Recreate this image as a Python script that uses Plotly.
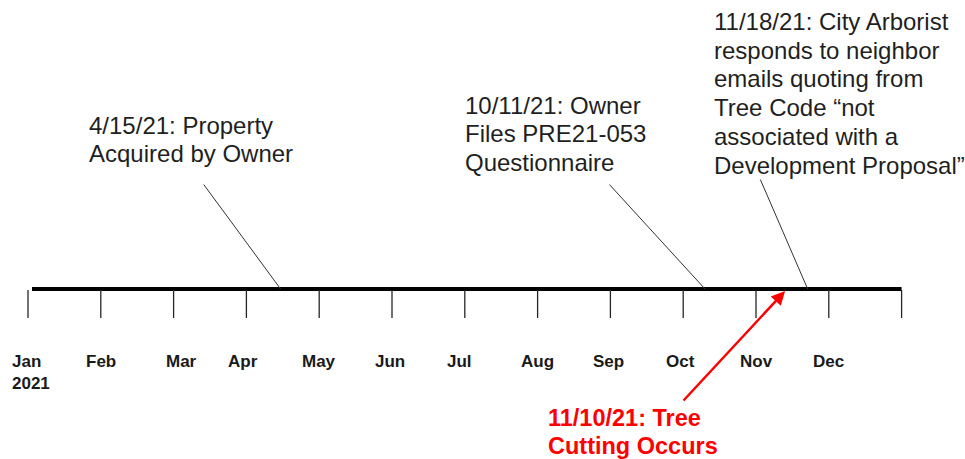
import plotly.graph_objects as go

# ---- data ----
months = ["Jan", "Feb", "Mar", "Apr", "May", "Jun", "Jul", "Aug", "Sep", "Oct", "Nov", "Dec"]
year_label = "2021"
month_index = list(range(13))          # tick positions (month boundaries), 12 = end of Dec
timeline_start = 0.055
timeline_end = 12.0

event_labels = [
    ["4/15/21: Property", "Acquired by Owner"],
    ["10/11/21: Owner", "Files PRE21-053", "Questionnaire"],
    ["11/18/21: City Arborist", "responds to neighbor", "emails quoting from",
     "Tree Code \u201cnot", "associated with a", "Development Proposal\u201d"],
]
event_pos = [3.47, 9.30, 10.71]        # position on timeline, in months from Jan 1

highlight_label = ["11/10/21: Tree", "Cutting Occurs"]
highlight_pos = 10.40

# ---- layout helpers (pixel geometry) ----
W, H = 965, 459
X0, DX = 28.0, 72.8                     # pixel of Jan tick, pixels per month
AXIS_Y = 289
FONT = "Liberation Sans, Arial, sans-serif"

# text block: left px, first-line center px, line spacing, connector tail (dx, dy)
event_text_left = [87, 462.5, 711.5]
event_text_top = [125, 105, 21.5]
event_line_gap = [28.5, 28.5, 28.7]
event_tail = [(-78, -106), (-97, -106), (-48, -111)]
label_shift = [0, 0, 8, -3, 0, -2, -5, 0, -2, -3, 0, 0]

def px2x(p):
    return (p - X0) / DX

fig = go.Figure()

# main timeline
fig.add_trace(go.Scatter(x=[timeline_start, timeline_end], y=[AXIS_Y, AXIS_Y], mode="lines",
                         line=dict(color="black", width=4), hoverinfo="skip", showlegend=False))

# month ticks
tx, ty = [], []
for m in month_index:
    tx += [m, m, None]
    ty += [AXIS_Y + 1, 318, None]
fig.add_trace(go.Scatter(x=tx, y=ty, mode="lines", line=dict(color="#262626", width=1.3),
                         hoverinfo="skip", showlegend=False))

ann = []
# month labels
for i, m in enumerate(months):
    if i == 0:
        ann.append(dict(x=i, y=361, text=f"{m}<br>{year_label}", xanchor="left", yanchor="top",
                        align="left", xshift=-18, yshift=11, showarrow=False,
                        font=dict(family=FONT, size=17, color="#1a1a1a", weight="bold")))
    else:
        ann.append(dict(x=i, y=361, text=m, xanchor="center", yanchor="middle",
                        xshift=label_shift[i], showarrow=False,
                        font=dict(family=FONT, size=17, color="#1a1a1a", weight="bold")))

# events
for k, lines in enumerate(event_labels):
    for j, ln in enumerate(lines):
        ann.append(dict(x=px2x(event_text_left[k]), y=event_text_top[k] + j * event_line_gap[k],
                        text=ln, xanchor="left", yanchor="middle", showarrow=False,
                        font=dict(family=FONT, size=24, color="#1f1f1f")))
    dx, dy = event_tail[k]
    ann.append(dict(x=event_pos[k], y=AXIS_Y, text="", showarrow=True, arrowhead=0,
                    arrowwidth=1, arrowcolor="#333333", ax=dx, ay=dy, standoff=0, startstandoff=0))

# highlighted event
for j, ln in enumerate(highlight_label):
    ann.append(dict(x=px2x(546), y=418 + j * 27.5, text=ln, xanchor="left", yanchor="middle",
                    showarrow=False, font=dict(family=FONT, size=23.5, color="#ff0000", weight="bold")))
ann.append(dict(x=highlight_pos, y=AXIS_Y + 2, text="", showarrow=True, arrowhead=2, arrowsize=1.1,
                arrowwidth=2.5, arrowcolor="#ff0000", ax=-103, ay=111, standoff=0))

fig.update_layout(
    width=W, height=H, margin=dict(l=0, r=0, t=0, b=0),
    paper_bgcolor="white", plot_bgcolor="white",
    xaxis=dict(range=[px2x(0), px2x(W)], visible=False, fixedrange=True),
    yaxis=dict(range=[H, 0], visible=False, fixedrange=True),
    annotations=ann, showlegend=False,
)

fig.write_html("out.html", config={"displayModeBar": False},
               post_script="document.body.style.margin='0';document.body.style.overflow='hidden';")
